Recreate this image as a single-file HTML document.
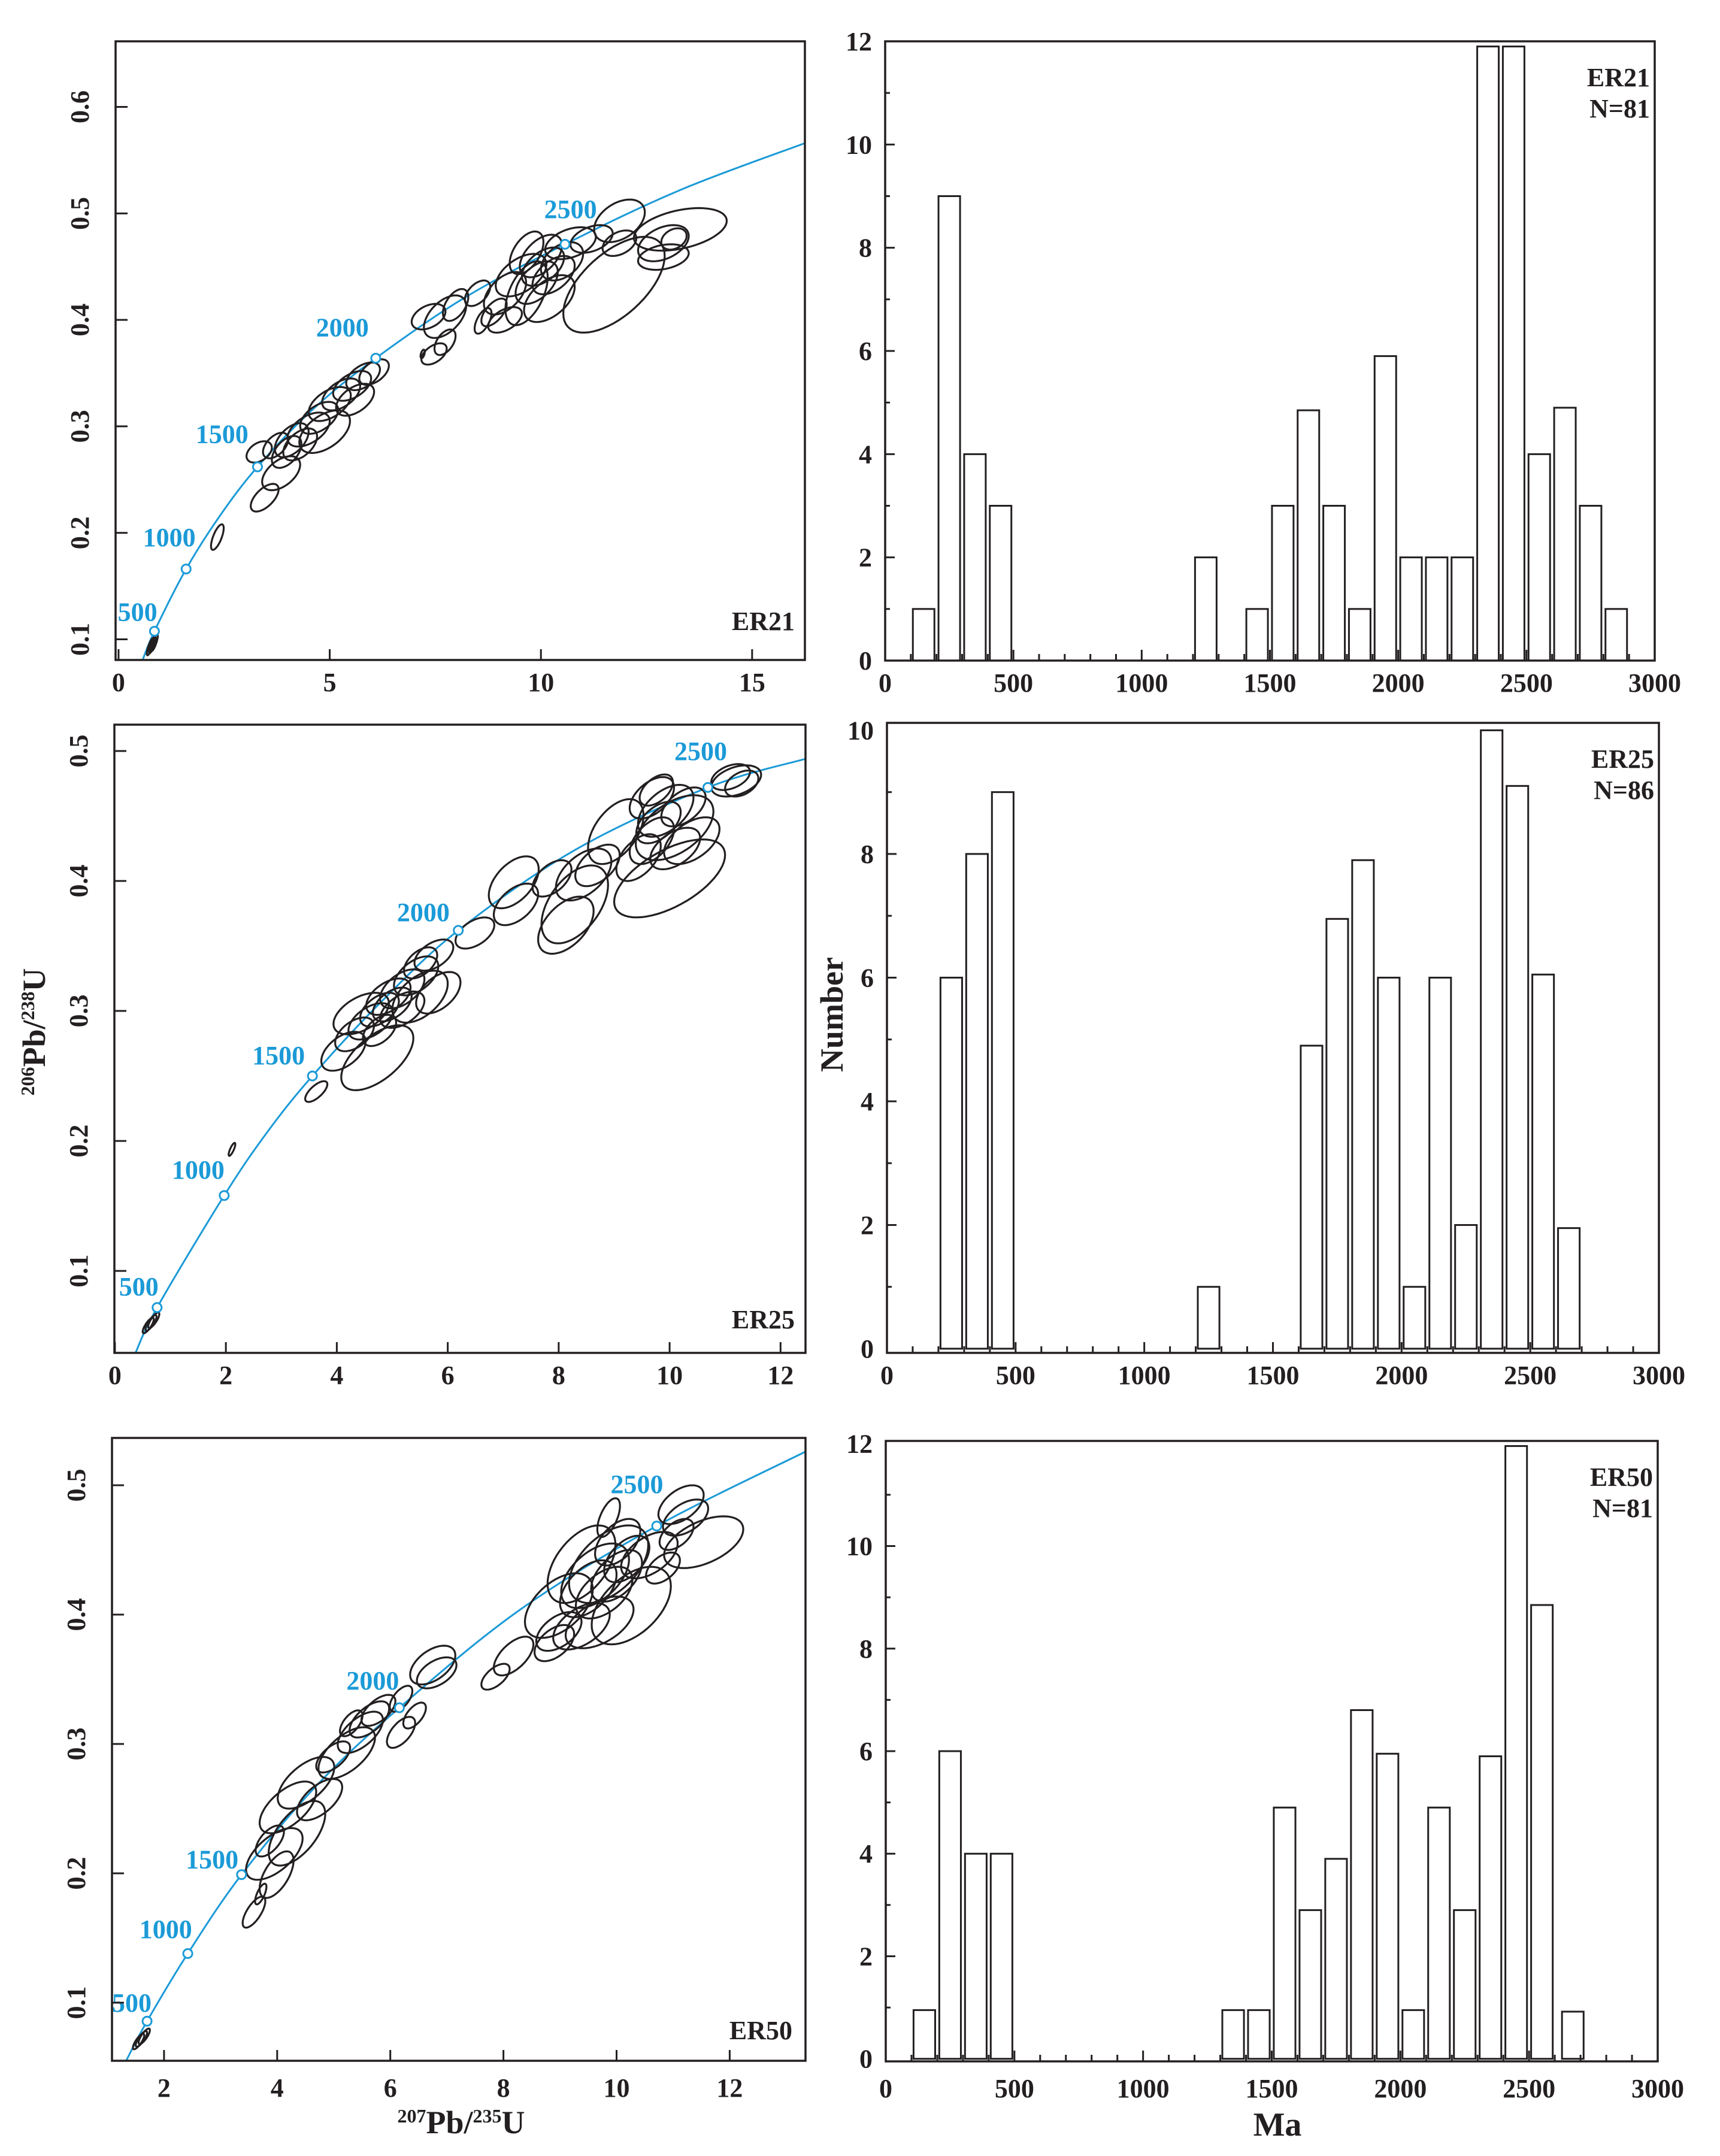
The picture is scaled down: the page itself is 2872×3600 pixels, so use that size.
<!DOCTYPE html>
<html><head><meta charset="utf-8">
<style>
html,body{margin:0;padding:0;background:#fff;}
svg{display:block;}
text{font-family:"Liberation Serif",serif;font-weight:bold;fill:#231f20;}
.blue{fill:#1b9ad7;}
</style></head>
<body>
<svg id="fig" width="2872" height="3600" viewBox="0 0 2872 3600" xmlns="http://www.w3.org/2000/svg">
<rect x="0" y="0" width="2872" height="3600" fill="#fff"/>
<g id="layer"></g>
<text transform="translate(75,1723) rotate(-90)" text-anchor="middle" font-size="54"><tspan font-size="32" dy="-18">206</tspan><tspan dy="18">Pb/</tspan><tspan font-size="32" dy="-18">238</tspan><tspan dy="18">U</tspan></text>
<text transform="translate(1407,1694) rotate(-90)" text-anchor="middle" font-size="54">Number</text>
<text x="770" y="3562" text-anchor="middle" font-size="54"><tspan font-size="32" dy="-18">207</tspan><tspan dy="18">Pb/</tspan><tspan font-size="32" dy="-18">235</tspan><tspan dy="18">U</tspan></text>
<text x="2133" y="3566" text-anchor="middle" font-size="56">Ma</text>
</svg>
<script>
// ---------- histogram data ----------
const binStarts1 = [100,200,300,400,1200,1400,1500,1600,1700,1800,1900,2000,2100,2200,2300,2400,2500,2600,2700,2800];
const counts1    = [1,9,4,3,2,1,3,4.85,3,1,5.9,2,2,2,11.9,11.9,4,4.9,3,1];
const binStarts2 = [200,300,400,1200,1600,1700,1800,1900,2000,2100,2200,2300,2400,2500,2600];
const counts2    = [6,8,9,1,4.9,6.95,7.9,6,1,6,2,10,9.1,6.05,1.95];
const binStarts3 = [100,200,300,400,1300,1400,1500,1600,1700,1800,1900,2000,2100,2200,2300,2400,2500,2620];
const counts3    = [0.95,6,4,4,0.95,0.95,4.9,2.9,3.9,6.8,5.95,0.95,4.9,2.9,5.9,11.95,8.85,0.92];
// ---------- concordia curve points ----------
const curveX1 = [0.57,0.85,1.6,2.4,3.29,4.6,6.09,8.2,10.57,13.3,16.25];
const curveY1 = [0.0806,0.1076,0.166,0.216,0.262,0.316,0.364,0.421,0.471,0.522,0.566];
const curveX2 = [0.37,0.76,1.97,2.75,3.56,4.8,6.19,8.3,10.69,12.45];
const curveY2 = [0.0369,0.0718,0.158,0.207,0.25,0.307,0.362,0.424,0.472,0.494];
const curveX3 = [1.33,1.7,2.42,3.37,4.7,6.16,8.3,10.71,13.34];
const curveY3 = [0.0551,0.0857,0.138,0.199,0.268,0.328,0.404,0.4685,0.526];
// ---------- age markers ----------
const markAges = [500,1000,1500,2000,2500];
const markX1 = [0.85,1.6,3.29,6.09,10.57]; const markY1 = [0.1076,0.166,0.262,0.364,0.471];
const markX2 = [0.76,1.97,3.56,6.19,10.69]; const markY2 = [0.0718,0.158,0.25,0.362,0.472];
const markX3 = [1.7,2.42,3.37,6.16,10.71]; const markY3 = [0.0857,0.138,0.199,0.328,0.4685];
const labX1 = [0.45,1.2,2.45,5.3,10.7]; const labY1 = [0.126,0.196,0.293,0.393,0.504];
const labX2 = [0.43,1.5,2.95,5.56,10.56]; const labY2 = [0.088,0.178,0.266,0.376,0.5];
const labX3 = [1.43,2.03,2.85,5.69,10.36]; const labY3 = [0.1,0.157,0.211,0.349,0.501];
// ---------- ellipses ----------
const ellX1 = [0.75,0.8,0.85,2.34,3.46,3.33,3.85,3.98,4.1,4.5,4.75,5.0,5.27,5.53,5.79,6.05,4.88,3.72,7.73,7.47,7.2,7.34,7.73,7.98,8.5,8.63,8.89,9.15,9.53,9.66,10.05,9.66,10.2,10.3,10.7,11.2,11.73,11.86,11.86,13.3,12.9,12.9,13.15,9.15,10.0,4.3,5.6,9.9,10.5];
const ellY1 = [0.093,0.095,0.097,0.196,0.233,0.276,0.256,0.276,0.287,0.297,0.308,0.321,0.33,0.338,0.347,0.351,0.295,0.282,0.379,0.368,0.368,0.403,0.403,0.414,0.425,0.399,0.407,0.425,0.442,0.463,0.45,0.425,0.42,0.442,0.472,0.476,0.433,0.493,0.472,0.485,0.472,0.459,0.476,0.4,0.46,0.283,0.325,0.435,0.455];
const ellSX1 = [0.08,0.08,0.08,0.15,0.33,0.3,0.45,0.35,0.4,0.5,0.45,0.5,0.45,0.45,0.4,0.35,0.6,0.3,0.25,0.3,0.05,0.4,0.5,0.3,0.3,0.2,0.3,0.5,0.6,0.4,0.5,0.5,0.6,0.5,0.6,0.5,1.2,0.6,0.4,1.1,0.6,0.6,0.3,0.4,0.5,0.4,0.45,0.5,0.5];
const ellSY1 = [0.008,0.008,0.008,0.012,0.013,0.01,0.016,0.015,0.016,0.016,0.015,0.016,0.015,0.014,0.013,0.012,0.02,0.012,0.012,0.01,0.004,0.012,0.02,0.015,0.012,0.012,0.013,0.02,0.02,0.02,0.018,0.03,0.022,0.018,0.015,0.013,0.045,0.02,0.012,0.02,0.017,0.012,0.01,0.012,0.02,0.015,0.015,0.02,0.018];
const ellR1 = [0.8,0.8,0.8,0.7,0.6,0.4,0.5,0.5,0.5,0.5,0.5,0.5,0.5,0.5,0.5,0.5,0.5,0.5,0.5,0.5,0.5,0.4,0.5,0.5,0.5,0.6,0.6,0.5,0.5,0.5,0.5,0.5,0.5,0.5,0.4,0.4,0.6,0.4,0.4,0.4,0.4,0.3,0.3,0.5,0.5,0.5,0.5,0.5,0.4];
const ellX2 = [0.6,0.65,0.7,2.11,3.63,4.73,4.12,4.32,4.61,4.77,4.93,5.18,5.43,5.51,5.75,5.5,5.83,4.44,5.18,4.77,6.49,7.19,7.23,7.88,8.13,8.29,8.45,8.7,9.03,10.0,9.44,9.68,10.09,9.93,9.68,9.76,10.25,10.4,11.2,11.1,11.3,5.0,9.8,10.1];
const ellY2 = [0.058,0.06,0.062,0.1935,0.238,0.264,0.269,0.282,0.292,0.301,0.311,0.317,0.327,0.337,0.343,0.311,0.314,0.298,0.301,0.285,0.36,0.399,0.382,0.402,0.366,0.382,0.405,0.412,0.438,0.402,0.418,0.431,0.441,0.454,0.464,0.47,0.457,0.431,0.477,0.48,0.475,0.305,0.445,0.425];
const ellSX2 = [0.1,0.1,0.1,0.06,0.2,0.65,0.4,0.35,0.4,0.35,0.4,0.4,0.4,0.3,0.35,0.5,0.4,0.5,0.4,0.3,0.35,0.45,0.4,0.35,0.5,0.6,0.5,0.4,0.5,1.0,0.4,0.4,0.7,0.5,0.4,0.3,0.4,0.5,0.45,0.35,0.3,0.35,0.4,0.45];
const ellSY2 = [0.006,0.006,0.006,0.005,0.008,0.025,0.015,0.013,0.014,0.013,0.014,0.015,0.015,0.012,0.012,0.02,0.016,0.016,0.014,0.012,0.012,0.02,0.016,0.014,0.022,0.03,0.02,0.016,0.025,0.03,0.018,0.018,0.025,0.02,0.016,0.012,0.015,0.018,0.012,0.01,0.01,0.013,0.016,0.016];
const ellR2 = [0.8,0.8,0.8,0.8,0.7,0.6,0.5,0.5,0.5,0.5,0.5,0.5,0.5,0.5,0.5,0.5,0.5,0.5,0.5,0.5,0.5,0.5,0.5,0.5,0.5,0.5,0.5,0.5,0.5,0.6,0.5,0.5,0.5,0.5,0.5,0.5,0.5,0.5,0.4,0.4,0.4,0.5,0.5,0.5];
const ellX3 = [1.55,1.6,1.65,3.59,3.71,3.99,3.95,4.35,3.87,4.19,4.51,4.75,4.99,5.23,5.47,5.63,5.79,5.31,6.19,6.43,6.19,6.82,6.75,7.86,8.18,8.9,8.98,9.38,9.62,9.78,9.86,10.02,10.18,10.26,9.7,9.38,8.98,10.58,9.86,11.14,11.22,11.54,11.06,10.82,9.5,10.0];
const ellY3 = [0.07,0.072,0.074,0.17,0.184,0.199,0.215,0.231,0.225,0.251,0.27,0.257,0.29,0.293,0.309,0.319,0.326,0.316,0.309,0.322,0.335,0.355,0.361,0.352,0.368,0.378,0.407,0.439,0.43,0.417,0.439,0.456,0.443,0.407,0.394,0.391,0.387,0.446,0.475,0.485,0.475,0.456,0.462,0.436,0.42,0.43];
const ellSX3 = [0.1,0.1,0.1,0.2,0.1,0.3,0.5,0.5,0.25,0.5,0.5,0.4,0.3,0.5,0.4,0.35,0.3,0.2,0.25,0.2,0.2,0.35,0.4,0.25,0.35,0.35,0.6,0.6,0.6,0.5,0.7,0.4,0.4,0.7,0.6,0.5,0.4,0.5,0.2,0.4,0.4,0.7,0.3,0.3,0.5,0.45];
const ellSY3 = [0.006,0.006,0.006,0.012,0.008,0.018,0.02,0.025,0.012,0.02,0.02,0.016,0.012,0.02,0.016,0.014,0.012,0.01,0.012,0.01,0.01,0.012,0.015,0.01,0.015,0.014,0.025,0.03,0.025,0.02,0.03,0.018,0.018,0.03,0.02,0.018,0.015,0.018,0.015,0.015,0.014,0.02,0.012,0.012,0.022,0.02];
const ellR3 = [0.8,0.8,0.8,0.7,0.7,0.6,0.6,0.6,0.6,0.6,0.6,0.6,0.6,0.6,0.6,0.6,0.6,0.6,0.6,0.6,0.6,0.5,0.5,0.6,0.6,0.5,0.5,0.5,0.5,0.5,0.5,0.5,0.5,0.5,0.5,0.5,0.5,0.5,0.6,0.5,0.5,0.5,0.5,0.5,0.5,0.5];
// ---------- tick labels ----------
const xTicks1 = [0,5,10,15]; const yTicks1 = [0.1,0.2,0.3,0.4,0.5,0.6];
const xTicks2 = [0,2,4,6,8,10,12]; const yTicks2 = [0.1,0.2,0.3,0.4,0.5];
const xTicks3 = [2,4,6,8,10,12]; const yTicks3 = [0.1,0.2,0.3,0.4,0.5];
const ageTicks = [0,500,1000,1500,2000,2500,3000];
const yTicksH1 = [0,2,4,6,8,10,12]; const yTicksH2 = [0,2,4,6,8,10]; const yTicksH3 = [0,2,4,6,8,10,12];
const sampleNames = ["ER21","ER25","ER50"];
const sampleN = ["N=81","N=86","N=81"];

const NS = "http://www.w3.org/2000/svg";
const layer = document.getElementById('layer');
function mk(tag, attrs, parent){ const e=document.createElementNS(NS,tag); for(const k in attrs) e.setAttribute(k,attrs[k]); (parent||layer).appendChild(e); return e; }
function scale(d0,d1,r0,r1){ return v => r0 + (v-d0)/(d1-d0)*(r1-r0); }

const conc = [
 {f:[193,69,1344,1102], xd:[-0.07,16.25], yd:[0.0806,0.6616], cx:curveX1, cy:curveY1, mx:markX1, my:markY1, lx:labX1, ly:labY1, ex:ellX1, ey:ellY1, esx:ellSX1, esy:ellSY1, er:ellR1, xt:xTicks1, yt:yTicks1, lab:[1327,1052]},
 {f:[191,1210,1345,2259], xd:[-0.01,12.45], yd:[0.0369,0.5203], cx:curveX2, cy:curveY2, mx:markX2, my:markY2, lx:labX2, ly:labY2, ex:ellX2, ey:ellY2, esx:ellSX2, esy:ellSY2, er:ellR2, xt:xTicks2, yt:yTicks2, lab:[1327,2218]},
 {f:[187,2401,1345,3441], xd:[1.08,13.34], yd:[0.0551,0.5366], cx:curveX3, cy:curveY3, mx:markX3, my:markY3, lx:labX3, ly:labY3, ex:ellX3, ey:ellY3, esx:ellSX3, esy:ellSY3, er:ellR3, xt:xTicks3, yt:yTicks3, lab:[1323,3405]}
];
const hist = [
 {f:[1478,69,2763,1103], yd:[0,12], bs:binStarts1, c:counts1, yt:yTicksH1, ymax:12},
 {f:[1481,1207,2770,2259], yd:[-0.068,10.12], bs:binStarts2, c:counts2, yt:yTicksH2, ymax:10},
 {f:[1479,2406,2768,3442], yd:[-0.05,12.05], bs:binStarts3, c:counts3, yt:yTicksH3, ymax:12}
];

conc.forEach((p,pi)=>{
  const [L,T,R,B]=p.f;
  const X=scale(p.xd[0],p.xd[1],L,R), Y=scale(p.yd[0],p.yd[1],B,T);
  const g=mk('g',{});
  
  
  const cid='clip'+pi;
  const cp=mk('clipPath',{id:cid},g); mk('rect',{x:L,y:T,width:R-L,height:B-T},cp);
  const pts=p.cx.map((v,i)=>[X(v),Y(p.cy[i])]);
  let d='M'+pts[0][0]+','+pts[0][1];
  for(let i=0;i<pts.length-1;i++){
    const p0=pts[Math.max(0,i-1)],p1=pts[i],p2=pts[i+1],p3=pts[Math.min(pts.length-1,i+2)];
    d+=' C'+(p1[0]+(p2[0]-p0[0])/6)+','+(p1[1]+(p2[1]-p0[1])/6)+' '+(p2[0]-(p3[0]-p1[0])/6)+','+(p2[1]-(p3[1]-p1[1])/6)+' '+p2[0]+','+p2[1];
  }
  const curve=mk('path',{d:d,fill:'none',stroke:'#1b9ad7','stroke-width':3,'clip-path':'url(#'+cid+')'},g);
  
  
  const eg=mk('g',{'clip-path':'url(#'+cid+')'},g);
  p.ex.forEach((cx,i)=>{
    const cy=p.ey[i], sx=p.esx[i], sy=p.esy[i], r=p.er[i], q=Math.sqrt(1-r*r);
    let s='';
    for(let k=0;k<=60;k++){ const t=k/60*2*Math.PI;
      const xv=cx+sx*Math.cos(t), yv=cy+sy*(r*Math.cos(t)+q*Math.sin(t));
      s+=(k?'L':'M')+X(xv).toFixed(1)+','+Y(yv).toFixed(1); }
    const e=mk('path',{d:s+'Z',fill:'none',stroke:'#231f20','stroke-width':3.2},eg);
    
    
  });
  p.mx.forEach((mx,i)=>{
    const c=mk('circle',{cx:X(mx),cy:Y(p.my[i]),r:7.5,fill:'#fff',stroke:'#1b9ad7','stroke-width':3},g);
    
    
    const t=mk('text',{x:X(p.lx[i]),y:Y(p.ly[i])+15,'text-anchor':'middle','font-size':44,class:'blue'},g);
    t.textContent=markAges[i];
    
    
  });
  const fr=mk('rect',{x:L,y:T,width:R-L,height:B-T,fill:'none',stroke:'#231f20','stroke-width':3.5},g);
  
  
  p.xt.forEach(v=>{
    const x=X(v);
    mk('line',{x1:x,y1:B,x2:x,y2:B-18,stroke:'#231f20','stroke-width':3},g);
    const t=mk('text',{x:x,y:B+(pi==2?60:52),'text-anchor':'middle','font-size':44},g);
    t.textContent=v;
    
    
  });
  p.yt.forEach(v=>{
    const y=Y(v);
    mk('line',{x1:L,y1:y,x2:L+20,y2:y,stroke:'#231f20','stroke-width':3},g);
    const t=mk('text',{transform:'translate('+(L-45)+','+y+') rotate(-90)','text-anchor':'middle','font-size':44},g);
    t.textContent=v.toFixed(1);
    
    
  });
  const sl=mk('text',{x:p.lab[0],y:p.lab[1],'text-anchor':'end','font-size':44},g);
  sl.textContent=sampleNames[pi];
  
  
});

hist.forEach((h,hi)=>{
  const [L,T,R,B]=h.f;
  const X=scale(0,3000,L,R), Y=scale(h.yd[0],h.yd[1],B,T);
  const g=mk('g',{});
  
  
  h.bs.forEach((b,i)=>{
    const x0=X(b+8), x1=X(b+92), y=Y(h.c[i]);
    const r=mk('rect',{x:x0,y:y,width:x1-x0,height:Y(0)-y,fill:'#fff',stroke:'#231f20','stroke-width':3},g);
    
    
  });
  const fr=mk('rect',{x:L,y:T,width:R-L,height:B-T,fill:'none',stroke:'#231f20','stroke-width':3.5},g);
  
  
  for(let a=100;a<3000;a+=100){ const x=X(a); const len=(a%500===0)?18:11;
    mk('line',{x1:x,y1:B,x2:x,y2:B-len,stroke:'#231f20','stroke-width':3},g); }
  ageTicks.forEach(a=>{
    const t=mk('text',{x:X(a),y:B+(hi==2?60:52),'text-anchor':'middle','font-size':44},g);
    t.textContent=a;
    
    
  });
  for(let v=1;v<h.ymax;v++){ const y=Y(v); const len=(v%2===0)?16:8;
    mk('line',{x1:L,y1:y,x2:L+len,y2:y,stroke:'#231f20','stroke-width':3},g); }
  h.yt.forEach(v=>{
    const t=mk('text',{x:L-22,y:Y(v)+15,'text-anchor':'end','font-size':44},g);
    t.textContent=v;
    
    
  });
  const s1=mk('text',{x:R-8,y:T+75,'text-anchor':'end','font-size':44},g);
  s1.textContent=sampleNames[hi];
  
  
  const s2=mk('text',{x:R-8,y:T+127,'text-anchor':'end','font-size':44},g);
  s2.textContent=sampleN[hi];
  
  
});
</script>
</body></html>
